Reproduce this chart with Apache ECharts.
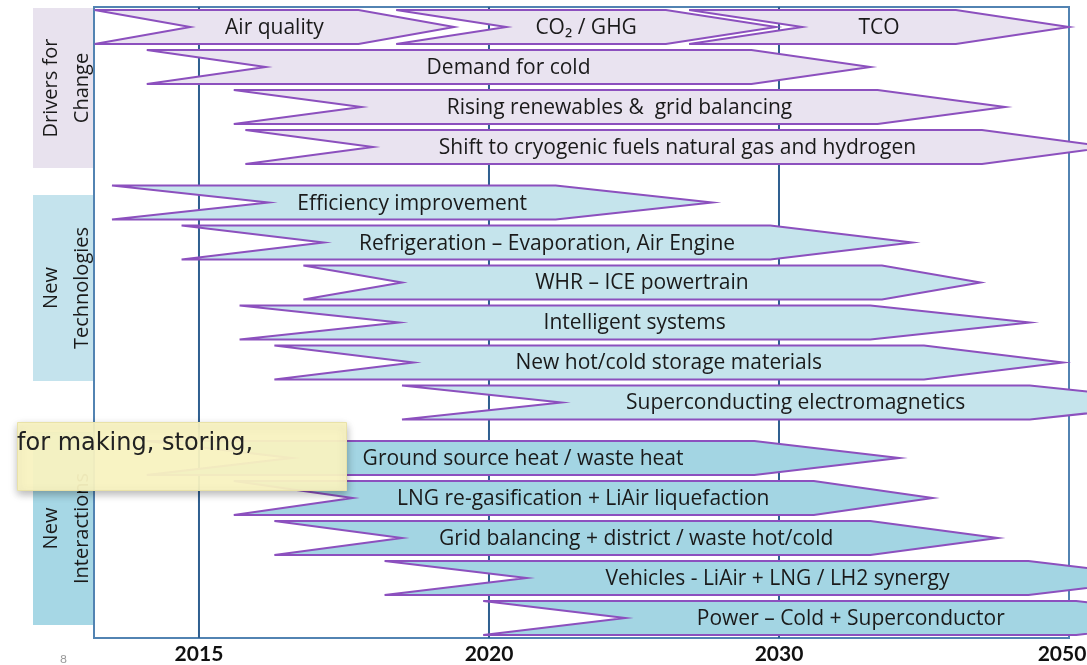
<!DOCTYPE html>
<html>
<head>
<meta charset="utf-8">
<style>
  html, body { margin: 0; padding: 0; background: #fff; }
  #chart { width: 1087px; height: 665px; }
</style>
<script src="https://cdn.jsdelivr.net/npm/echarts@6/dist/echarts.min.js"></script>
</head>
<body>
<div id="chart"></div>
<script>
// axis ticks (non-linear roadmap axis: each label sits one step apart)
const tickYears = [2015, 2020, 2030, 2050];
const gridYears = [2015, 2020, 2030];

const groupNames = ['Drivers for\nChange', 'New\nTechnologies', 'New\nInteractions'];

const arrowLabels = [
  'Air quality', 'CO₂ / GHG', 'TCO',
  'Demand for cold',
  'Rising renewables &  grid balancing',
  'Shift to cryogenic fuels natural gas and hydrogen',
  'Efficiency improvement',
  'Refrigeration – Evaporation, Air Engine',
  'WHR – ICE powertrain',
  'Intelligent systems',
  'New hot/cold storage materials',
  'Superconducting electromagnetics',
  'Ground source heat / waste heat',
  'LNG re-gasification + LiAir liquefaction',
  'Grid balancing + district / waste hot/cold',
  'Vehicles - LiAir + LNG / LH2 synergy',
  'Power – Cold + Superconductor'
];
const rowIndex   = [0, 0, 0, 1, 2, 3, 4, 5, 6, 7, 8, 9, 10, 11, 12, 13, 14];
const groupIndex = [0, 0, 0, 0, 0, 0, 1, 1, 1, 1, 1, 1, 2, 2, 2, 2, 2];
const startYear  = [2013.2, 2018.4, 2026.9, 2014.1, 2015.6, 2015.8, 2013.5, 2014.7, 2016.8,
                    2015.7, 2016.3, 2018.5, 2014.1, 2015.6, 2016.3, 2018.2, 2019.9];
const endYear    = [2019.4, 2029.9, 2050.0, 2036.3, 2045.6, 2052.8, 2027.7, 2039.2, 2043.9,
                    2047.3, 2049.6, 2058.3, 2038.3, 2040.6, 2045.1, 2057.0, 2060.3];
// chevron head / notch length, in axis steps
const headLen    = [0.33, 0.38, 0.39, 0.41, 0.44, 0.44, 0.54, 0.49, 0.34,
                    0.55, 0.48, 0.55, 0.50, 0.41, 0.44, 0.49, 0.49];

const GROUP_GAP = 0.39;
const fills = ['#e9e3f0', '#c5e4ec', '#a3d5e3'];
const boxFills = ['#e8e2ee', '#c4e3ed', '#a6d7e5'];

function toAxis(y) {
  const t = tickYears;
  let i = 0;
  if (y >= t[t.length - 1]) i = t.length - 2;
  else while (i < t.length - 2 && y > t[i + 1]) i++;
  return i + 1 + (y - t[i]) / (t[i + 1] - t[i]);
}

const arrowData = arrowLabels.map((name, i) => [
  toAxis(startYear[i]),
  toAxis(endYear[i]),
  rowIndex[i] + groupIndex[i] * GROUP_GAP,
  headLen[i],
  groupIndex[i]
]);

const chart = echarts.init(document.getElementById('chart'), null, { renderer: 'canvas' });

const boxes = [[8, 168], [195, 381], [432, 625]];
const graphics = [];
boxes.forEach(function(b, i) {
  graphics.push({
    type: 'rect', left: 33, top: b[0], z: 0,
    shape: { width: 60, height: b[1] - b[0] },
    style: { fill: boxFills[i] }
  });
  graphics.push({
    type: 'text', z: 1,
    x: 67, y: (b[0] + b[1]) / 2, rotation: Math.PI / 2,
    style: {
      text: groupNames[i], fontSize: 20, fontFamily: 'Open Sans', fill: '#1a1a1a',
      align: 'center', verticalAlign: 'middle', lineHeight: 31
    }
  });
});
// sticky note on top
graphics.push({
  type: 'rect', left: 17, top: 422, z: 100,
  shape: { width: 329, height: 68 },
  style: {
    fill: 'rgba(253,248,196,0.93)', stroke: '#e9e2a8', lineWidth: 1,
    shadowBlur: 8, shadowOffsetY: 3, shadowColor: 'rgba(0,0,0,0.3)'
  }
});
graphics.push({
  type: 'text', left: 17, top: 432, z: 101,
  style: { text: 'for making, storing,', fontSize: 24, fontFamily: 'DejaVu Sans', fill: '#222' }
});
graphics.push({
  type: 'text', left: 60, top: 653, z: 1,
  style: { text: '8', fontSize: 12, fontFamily: 'Lato', fill: '#999' }
});

const option = {
  animation: false,
  grid: {
    left: 94, right: 18, top: 7, bottom: 27,
    containLabel: false,
    outerBoundsMode: 'none',
    show: true, borderColor: '#5283b2', borderWidth: 2, backgroundColor: 'transparent'
  },
  xAxis: {
    type: 'value',
    min: toAxis(2013.19),
    max: 4,
    axisLine: { show: false },
    axisTick: { show: false },
    splitLine: { show: false },
    axisLabel: {
      customValues: tickYears.map(toAxis),
      formatter: function(v) {
        const i = Math.round(v) - 1;
        // last label sits a little left so it stays inside the page
        return i === tickYears.length - 1 ? '{last|' + tickYears[i] + '}' : String(tickYears[i]);
      },
      rich: {
        last: { fontSize: 21, fontWeight: 'bold', fontFamily: 'Lato', color: '#111', padding: [0, 14, 0, 0] }
      },
      fontSize: 21, fontWeight: 'bold', fontFamily: 'Lato', color: '#111', margin: 6
    }
  },
  yAxis: {
    type: 'value',
    inverse: true,
    min: -0.5,
    max: 14 + 2 * GROUP_GAP + 0.5,
    show: false
  },
  graphic: graphics,
  series: [
    {
      type: 'custom',
      name: 'gridlines',
      z: 1,
      silent: true,
      data: gridYears.map(y => [toAxis(y)]),
      renderItem: function(params, api) {
        const x = api.coord([api.value(0), 0])[0];
        const cs = params.coordSys;
        return {
          type: 'line',
          shape: { x1: x, y1: cs.y, x2: x, y2: cs.y + cs.height },
          style: { stroke: '#2f5f90', lineWidth: 2 }
        };
      }
    },
    {
      type: 'custom',
      name: 'roadmap',
      z: 5,
      clip: false,
      silent: true,
      data: arrowData,
      encode: { x: [0, 1], y: 2 },
      renderItem: function(params, api) {
        const p0 = api.coord([api.value(0), api.value(2)]);
        const p1 = api.coord([api.value(1), api.value(2)]);
        const d = api.size([api.value(3), 0])[0];
        const h = api.size([0, 1])[1] * 0.85;
        const mid = p0[1], top = mid - h / 2, bot = mid + h / 2;
        const x0 = p0[0], x1 = p1[0];
        const pts = [[x0, top], [x1 - d, top], [x1, mid], [x1 - d, bot], [x0, bot], [x0 + d, mid]];
        return {
          type: 'group',
          children: [
            {
              type: 'polygon',
              shape: { points: pts },
              style: { fill: fills[api.value(4)], stroke: '#8c50be', lineWidth: 2 }
            },
            {
              type: 'text',
              style: {
                text: arrowLabels[params.dataIndex],
                x: (x0 + x1) / 2, y: mid + 1,
                align: 'center', verticalAlign: 'middle',
                fontSize: 21, fontFamily: 'Open Sans', fill: '#1a1a1a'
              }
            }
          ]
        };
      }
    }
  ]
};

chart.setOption(option);
</script>
</body>
</html>
